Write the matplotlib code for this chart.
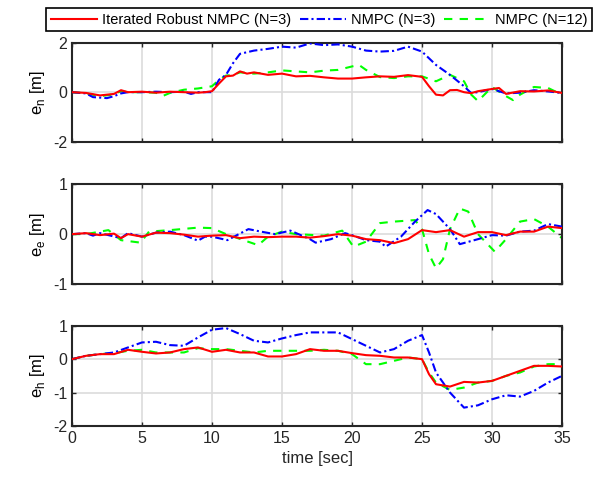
import numpy as np
import matplotlib.pyplot as plt

plt.rcParams['font.family'] = ['Liberation Sans', 'DejaVu Sans']
plt.rcParams['mathtext.fontset'] = 'custom'
plt.rcParams['mathtext.rm'] = 'Liberation Sans'
plt.rcParams['axes.unicode_minus'] = False

# ---- e_n ----
t_n_red = [0, 1, 2, 3, 3.5, 4, 5, 6, 7, 8, 9, 9.5, 10, 10.5, 11, 11.5, 12, 12.5, 13, 14, 15, 16, 17, 18, 19, 20,
           21, 22, 23, 24, 25, 25.5, 26, 26.5, 27, 27.5, 28, 28.5, 29, 30, 30.5, 31, 32, 33, 34, 35]
en_red = [0, -0.03, -0.13, -0.07, 0.08, 0, 0.02, -0.02, 0.02, 0.0, -0.02, 0.0, 0.04, 0.35, 0.64, 0.67, 0.84, 0.75,
          0.8, 0.7, 0.75, 0.64, 0.66, 0.6, 0.55, 0.55, 0.6, 0.64, 0.62, 0.69, 0.62, 0.24, -0.1, -0.13, 0.08, 0.09,
          0.0, -0.04, 0.04, 0.13, 0.17, -0.07, 0.04, 0.03, 0.07, -0.03]

t_n_blue = [0, 1, 1.5, 2.5, 3, 3.5, 4, 5, 6, 7, 8, 8.5, 9, 10, 10.5, 11, 11.5, 12, 13, 14, 15, 16, 17, 18, 19, 20,
            21, 22, 23, 24, 25, 26, 27, 28, 28.5, 29, 30, 31, 32, 33, 34, 35]
en_blue = [0, -0.05, -0.2, -0.24, -0.16, -0.05, 0, 0.0, 0.02, 0.0, 0.02, -0.07, 0.0, 0.0, 0.5, 0.7, 1.17, 1.55,
           1.68, 1.75, 1.84, 1.8, 1.97, 1.9, 1.93, 1.84, 1.68, 1.64, 1.67, 1.84, 1.64, 1.1, 0.7, 0.24, -0.03,
           0.0, 0.13, -0.05, -0.02, 0.08, 0.03, -0.03]

t_n_green = [0, 1, 2, 3, 3.5, 4, 5, 6, 6.5, 7, 8, 9, 10, 10.5, 11, 11.5, 12, 13, 14, 15, 16, 17, 18, 19, 20, 20.5,
             21, 22, 23, 24, 25, 26, 27, 28, 28.5, 29, 30, 31, 31.5, 32, 33, 34, 35]
en_green = [0, -0.05, -0.16, -0.09, 0.04, 0, 0.0, -0.02, -0.15, -0.03, 0.1, 0.15, 0.24, 0.5, 0.67, 0.7, 0.8, 0.75,
            0.8, 0.88, 0.84, 0.8, 0.87, 0.9, 1.04, 1.1, 0.9, 0.61, 0.57, 0.64, 0.64, 0.44, 0.7, 0.44, -0.09,
            -0.36, 0.21, -0.16, -0.32, -0.1, 0.21, 0.17, -0.1]

# ---- e_e ----
t_e_red = [0, 1, 2, 3, 3.5, 4, 5, 6, 7, 8, 9, 10, 11, 12, 13, 14, 15, 16, 17, 18, 19, 20, 21, 22, 23, 24, 25,
           26, 27, 28, 29, 30, 31, 32, 33, 34, 35]
ee_red = [0, 0.02, -0.02, 0.01, -0.08, 0.0, -0.05, 0.03, 0.02, -0.01, -0.05, -0.03, -0.02, -0.08, -0.05, -0.06,
          -0.05, -0.05, -0.07, -0.04, 0.0, -0.03, -0.1, -0.12, -0.18, -0.1, 0.08, 0.04, 0.08, -0.05, 0.04, 0.04,
          -0.02, 0.05, 0.05, 0.15, 0.12]

t_e_blue = [0, 1, 1.5, 2, 3.5, 4, 5, 6, 7, 8, 9, 9.5, 10, 11.1, 12.6, 13.5, 14.5, 15.6, 17, 17.4, 18.5, 19.5, 20,
            21, 22, 22.4, 23.5, 24.5, 25.4, 26, 27, 27.7, 29, 30, 31, 32, 33, 34, 35]
ee_blue = [0, 0.02, -0.03, 0.02, -0.08, 0.02, -0.05, 0.03, 0.05, -0.02, -0.13, -0.05, -0.05, -0.12, 0.1, 0.05,
           0.0, 0.07, -0.1, -0.17, -0.1, 0.02, -0.02, -0.12, -0.15, -0.25, -0.05, 0.25, 0.48, 0.4, 0.1, -0.2,
           -0.1, -0.02, -0.03, 0.05, 0.07, 0.2, 0.15]

t_e_green = [0, 1, 2, 2.6, 3.5, 4.9, 5.5, 7, 9, 10, 11, 13.3, 14, 15, 16, 18, 19.3, 20.1, 21, 22, 23, 24.5, 25,
             25.5, 26, 26.5, 27, 27.7, 28.3, 29, 30.2, 31, 32, 33, 34, 35]
ee_green = [0, 0.0, 0.05, 0.08, -0.12, -0.17, 0.05, 0.08, 0.13, 0.12, 0.0, -0.22, -0.05, 0.05, 0.0, -0.03, 0.07,
            -0.25, -0.15, 0.22, 0.25, 0.28, 0.1, -0.4, -0.68, -0.5, 0.1, 0.51, 0.45, 0.0, -0.35, -0.1, 0.25, 0.3,
            0.15, -0.08]

# ---- e_h ----
t_h = [0, 1, 2, 3, 4, 5, 6, 7, 8, 9, 10, 11, 12, 13, 14, 15, 16, 17, 18, 19, 20, 21, 22, 23, 24, 25, 25.5, 26,
       27, 28, 29, 30, 31, 32, 33, 34, 35]
eh_red = [0, 0.1, 0.15, 0.15, 0.28, 0.22, 0.17, 0.2, 0.3, 0.35, 0.22, 0.28, 0.2, 0.2, 0.08, 0.08, 0.15, 0.3,
          0.25, 0.25, 0.18, 0.12, 0.1, 0.05, 0.05, 0.0, -0.45, -0.75, -0.82, -0.68, -0.7, -0.65, -0.5, -0.35,
          -0.2, -0.2, -0.22]
eh_blue = [0, 0.1, 0.15, 0.2, 0.35, 0.5, 0.52, 0.42, 0.4, 0.65, 0.88, 0.93, 0.75, 0.55, 0.5, 0.62, 0.72, 0.8,
           0.8, 0.8, 0.6, 0.4, 0.2, 0.3, 0.55, 0.72, 0.2, -0.4, -1.0, -1.45, -1.38, -1.2, -1.08, -1.12, -0.95,
           -0.7, -0.5]
eh_green = [0, 0.1, 0.15, 0.18, 0.25, 0.28, 0.2, 0.2, 0.2, 0.33, 0.3, 0.3, 0.25, 0.2, 0.25, 0.25, 0.25, 0.25,
            0.28, 0.25, 0.15, -0.15, -0.15, -0.05, 0.05, 0.0, -0.4, -0.7, -0.92, -0.85, -0.7, -0.65, -0.5, -0.4,
            -0.22, -0.15, -0.15]

labels = ['Iterated Robust NMPC (N=3)', 'NMPC (N=3)', 'NMPC (N=12)']
ylabels = [r'e$_\mathregular{n}$ [m]', r'e$_\mathregular{e}$ [m]', r'e$_\mathregular{h}$ [m]']

fig = plt.figure(figsize=(5.97, 4.79), dpi=100)
rects = [[0.1206, 0.7042, 0.8208, 0.2067],
         [0.1206, 0.4065, 0.8208, 0.2094],
         [0.1206, 0.1106, 0.8208, 0.2094]]
axs = [fig.add_axes(r) for r in rects]

data = [
  [(t_n_red, en_red), (t_n_blue, en_blue), (t_n_green, en_green)],
  [(t_e_red, ee_red), (t_e_blue, ee_blue), (t_e_green, ee_green)],
  [(t_h, eh_red), (t_h, eh_blue), (t_h, eh_green)],
]
ylims = [(-2, 2), (-1, 1), (-2, 1)]
yticks = [[-2, 0, 2], [-1, 0, 1], [-2, -1, 0, 1]]

for i, ax in enumerate(axs):
  (tr, r), (tb, b), (tg, g) = data[i]
  ax.plot(tr, r, color='#ff0000', lw=1.5, label=labels[0], zorder=4)
  ax.plot(tb, b, color='#0000ff', lw=1.5, linestyle=(0, (4, 1.5, 1, 1.5)), label=labels[1], zorder=3)
  ax.plot(tg, g, color='#00ff00', lw=1.5, linestyle=(0, (4, 3.5)), label=labels[2], zorder=2)
  ax.set_xlim(0, 35)
  ax.set_ylim(*ylims[i])
  ax.set_yticks(yticks[i])
  ax.set_xticks(np.arange(0, 36, 5))
  ax.grid(color='#dcdcdc', lw=1.2)
  ax.set_axisbelow(True)
  ax.tick_params(direction='in', top=True, right=True, labelsize=11.5, length=3, width=1, colors='#262626')
  for s in ax.spines.values():
    s.set_linewidth(1.5)
    s.set_color('#262626')
  ax.set_ylabel(ylabels[i], fontsize=12, labelpad=4)
  if i < 2:
    ax.set_xticklabels([])

axs[2].set_xlabel('time [sec]', fontsize=12, color='#262626')

leg = fig.legend(*axs[0].get_legend_handles_labels(), loc='center', bbox_to_anchor=(0.5343, 0.9589), ncol=3,
                 fontsize=10.5, frameon=True, fancybox=False, edgecolor='#000000', framealpha=1,
                 handlelength=3.2, columnspacing=0.6, handletextpad=0.3, borderpad=0.3, borderaxespad=0)
leg.get_frame().set_linewidth(1.2)

fig.savefig('out.png', dpi=100)
